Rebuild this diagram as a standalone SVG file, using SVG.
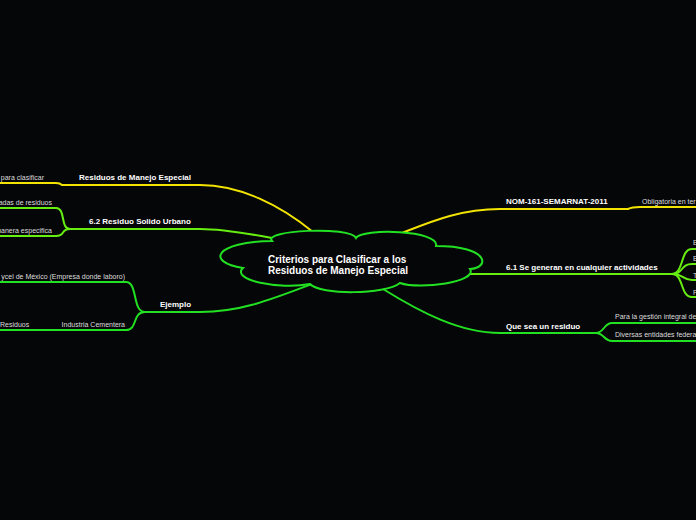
<svg xmlns="http://www.w3.org/2000/svg" width="696" height="520" viewBox="0 0 696 520">
<style>
.c{fill:none;stroke-width:2;stroke-linecap:round}
.y{stroke:#f2e400}
.g{stroke:#22e022}
.l{stroke:#66ee10}
.b{font-family:"Liberation Sans",Arial,sans-serif;font-weight:bold;font-size:8px;fill:#ffffff}
.s{font-family:"Liberation Sans",Arial,sans-serif;font-size:7px;fill:#dddddd}
.m{font-family:"Liberation Sans",Arial,sans-serif;font-weight:bold;font-size:10px;fill:#ffffff}
</style>
<rect width="696" height="520" fill="#050608"/>
<g id="connectors">
<path class="c y" d="M313,232 C280,205 240,185 200,185 L62,185 C60,183 58,183 56,183 L0,183"/>
<path class="c l" d="M272,238 C240,232 220,229 200,229 L70,229"/>
<path class="c l" d="M70,229 C60,229 66,208 56,208 L0,208"/>
<path class="c l" d="M70,229 C60,229 66,236 56,236 L0,236"/>
<path class="c g" d="M312,284 C270,300 240,312 200,312 L145,312"/>
<path class="c g" d="M145,312 C132,312 138,282 126,282 L0,282"/>
<path class="c g" d="M145,312 C132,312 138,330 126,330 L0,330"/>
<path class="c y" d="M402,233 C430,222 460,209 500,209 L628,209 C632,207 634,207 640,207 L696,207"/>
<path class="c l" d="M470,274 L672,274"/>
<path class="c l" d="M672,274 C684,274 680,249 692,249 L696,249"/>
<path class="c l" d="M672,274 C684,274 680,264 692,264 L696,264"/>
<path class="c l" d="M672,274 C684,274 682,280 692,280 L696,280"/>
<path class="c l" d="M672,274 C684,274 680,297 692,297 L696,297"/>
<path class="c g" d="M383,289 C420,312 460,333 500,333 L596,333"/>
<path class="c g" d="M596,333 C604,333 604,323 612,323 L696,323"/>
<path class="c g" d="M596,333 C604,333 604,341 612,341 L696,341"/>
</g>
<g id="central">
<path d="M272,241 C262,230 350,226 356,238 C362,228 440,230 436,246 C490,246 490,268 470,269 C478,282 420,290 400,283 C385,295 320,295 310,284 C280,290 230,280 243,268 C205,262 215,242 272,241 Z" fill="#050608" stroke="#22e022" stroke-width="2"/>
<text class="m" x="268" y="263">Criterios para Clasificar a los</text>
<text class="m" x="268" y="274">Residuos de Manejo Especial</text>
</g>
<g id="n-rme"><text class="b" x="79" y="180">Residuos de Manejo Especial</text></g>
<g id="n-rme-1"><text class="s" x="44" y="180" text-anchor="end">para clasificar</text></g>
<g id="n-62"><text class="b" x="89" y="224">6.2 Residuo Solido Urbano</text></g>
<g id="n-62-1"><text class="s" x="52" y="205" text-anchor="end">adas de residuos</text></g>
<g id="n-62-2"><text class="s" x="52" y="233" text-anchor="end">manera especifica</text></g>
<g id="n-ej"><text class="b" x="160" y="307">Ejemplo</text></g>
<g id="n-ej-1"><text class="s" x="125" y="279" text-anchor="end">ycel de México (Empresa donde laboro)</text></g>
<g id="n-ej-2"><text class="s" x="125" y="327" text-anchor="end">Industria Cementera</text></g>
<g id="n-ej-2-1"><text class="s" x="0" y="327">Residuos</text></g>
<g id="n-nom"><text class="b" x="506" y="204">NOM-161-SEMARNAT-2011</text></g>
<g id="n-nom-1"><text class="s" x="642" y="204">Obligatoria en ter</text></g>
<g id="n-61"><text class="b" x="506" y="270">6.1 Se generan en cualquier actividades</text></g>
<g id="n-61-1"><text class="s" x="693" y="245">E</text></g>
<g id="n-61-2"><text class="s" x="693" y="261">B</text></g>
<g id="n-61-3"><text class="s" x="693" y="278">T</text></g>
<g id="n-61-4"><text class="s" x="693" y="295">F</text></g>
<g id="n-qs"><text class="b" x="506" y="329">Que sea un residuo</text></g>
<g id="n-qs-1"><text class="s" x="615" y="319">Para la gestión integral de</text></g>
<g id="n-qs-2"><text class="s" x="615" y="337">Diversas entidades federa</text></g>
</svg>
